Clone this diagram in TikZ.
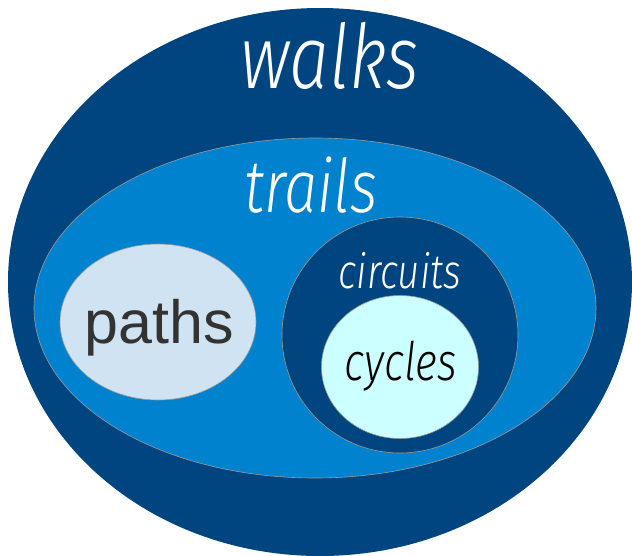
\documentclass[tikz,border=0pt]{standalone}
\usepackage{fontspec}
\setmainfont{Fira Sans}[ItalicFont={Fira Sans Light Italic}]
\newfontfamily\arialf{Liberation Sans}
\definecolor{darkb}{HTML}{00457F}
\definecolor{midb}{HTML}{0082CF}
\definecolor{pathc}{HTML}{CFE3F2}
\definecolor{cycc}{HTML}{CCFFFF}
\definecolor{txtg}{HTML}{333333}
\tikzset{
  setshape/.style={ellipse, draw=gray!80, line width=0.6pt, inner sep=0pt},
  lbl/.style={anchor=base, inner sep=0pt, font=\itshape},
}
\usetikzlibrary{shapes.geometric}
\begin{document}
\begin{tikzpicture}[x=1pt,y=-1pt]
\useasboundingbox (0,0) rectangle (632,555);
\node[setshape, draw=none, fill=darkb, minimum width=624pt, minimum height=548pt] (walks) at (320,282) {};
\node[setshape, fill=midb, minimum width=562pt, minimum height=340pt] (trails) at (315,308) {};
\node[setshape, fill=pathc, minimum width=196pt, minimum height=156pt] (paths) at (158,322) {};
\node[setshape, fill=darkb, minimum width=236pt, minimum height=236pt] (circuits) at (400,335) {};
\node[setshape, fill=cycc, minimum width=157pt, minimum height=143pt] (cycles) at (400,367) {};
\node[lbl, text=white] (twalks) at (330,88) {\scalebox{0.8}[1]{\fontsize{89}{89}\selectfont walks}};
\node[lbl, text=white] (ttrails) at (311,212) {\scalebox{0.8}[1]{\fontsize{74}{74}\selectfont trails}};
\node[lbl, text=white] (tcircuits) at (400,288) {\scalebox{0.8}[1]{\fontsize{48}{48}\selectfont circuits}};
\node[lbl, text=black] (tcycles) at (401,380) {\scalebox{0.8}[1]{\fontsize{53}{53}\selectfont cycles}};
\node[anchor=base, inner sep=0pt, text=txtg, font=\arialf\fontsize{61}{61}\selectfont] (tpaths) at (159,343) {paths};
\end{tikzpicture}
\end{document}
